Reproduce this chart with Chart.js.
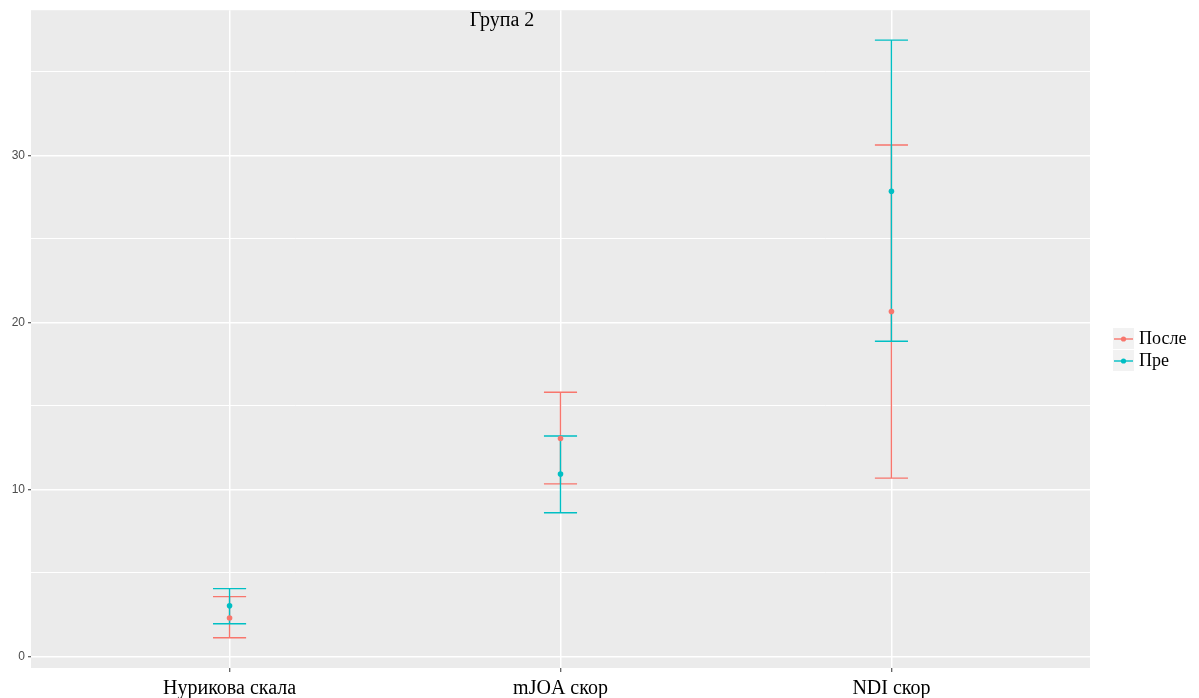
<!DOCTYPE html>
<html>
<head>
<meta charset="utf-8">
<script src="https://cdn.jsdelivr.net/npm/chart.js@4"></script>
<style>
  html, body { margin: 0; padding: 0; background: #fff; }
  #wrap { width: 1199px; height: 698px; }
</style>
</head>
<body>
<div id="wrap"><canvas id="chart" width="1199" height="698"></canvas></div>
<script>
// categories and values
const categories = ['Нурикова скала', 'mJOA скор', 'NDI скор'];
const seriesNames = ['После', 'Пре'];
const posleMean = [2.3, 13.05, 20.65];
const posleLow = [1.12, 10.33, 10.68];
const posleHigh = [3.58, 15.82, 30.62];
const preMean = [3.04, 10.92, 27.85];
const preLow = [1.96, 8.6, 18.87];
const preHigh = [4.06, 13.2, 36.9];
const yTicks = [0, 10, 20, 30];

const colors = ['#F8766D', '#00BFC4'];
const serif = '"Liberation Serif", "Times New Roman", serif';
const sans = '"Liberation Sans", Arial, sans-serif';

const toPoints = arr => arr.map((v, i) => ({ x: i + 1, y: v }));

const panelBg = {
    id: 'panelBg',
    beforeDraw(chart) {
        const { ctx, chartArea: a } = chart;
        ctx.save();
        ctx.fillStyle = '#EBEBEB';
        ctx.fillRect(a.left, a.top, a.right - a.left, a.bottom - a.top);
        ctx.restore();
    }
};

const errorBars = {
    id: 'errorBars',
    beforeDatasetsDraw(chart) {
        const { ctx, scales: { x, y } } = chart;
        const sets = [[posleLow, posleHigh], [preLow, preHigh]];
        ctx.save();
        ctx.lineWidth = 1.4;
        sets.forEach(([lo, hi], s) => {
            ctx.strokeStyle = colors[s];
            lo.forEach((v, i) => {
                const px = x.getPixelForValue(i + 1);
                const half = (x.getPixelForValue(1.1) - x.getPixelForValue(1)) * 0.5;
                const y1 = y.getPixelForValue(v);
                const y2 = y.getPixelForValue(hi[i]);
                ctx.beginPath();
                ctx.moveTo(px, y1); ctx.lineTo(px, y2);
                ctx.moveTo(px - half, y1); ctx.lineTo(px + half, y1);
                ctx.moveTo(px - half, y2); ctx.lineTo(px + half, y2);
                ctx.stroke();
            });
        });
        ctx.restore();
    }
};

const titleAndLegend = {
    id: 'titleAndLegend',
    afterDraw(chart) {
        const { ctx } = chart;
        ctx.save();
        ctx.fillStyle = '#000';
        ctx.font = '20px ' + serif;
        ctx.textAlign = 'center';
        ctx.textBaseline = 'middle';
        ctx.fillText('Група 2', 502, 21);

        // legend keys
        seriesNames.forEach((name, i) => {
            const top = 328 + i * 22;
            const cy = top + 11;
            ctx.fillStyle = '#F2F2F2';
            ctx.fillRect(1113, top, 21, 21);
            ctx.strokeStyle = colors[i];
            ctx.lineWidth = 1.4;
            ctx.beginPath();
            ctx.moveTo(1114, cy); ctx.lineTo(1133, cy);
            ctx.stroke();
            ctx.fillStyle = colors[i];
            ctx.beginPath();
            ctx.arc(1123.5, cy, 2.6, 0, Math.PI * 2);
            ctx.fill();
            ctx.fillStyle = '#000';
            ctx.font = '18px ' + serif;
            ctx.textAlign = 'left';
            ctx.fillText(name, 1139, cy);
        });
        ctx.restore();
    }
};

new Chart(document.getElementById('chart'), {
    type: 'line',
    data: {
        datasets: [
            {
                label: seriesNames[0],
                data: toPoints(posleMean),
                showLine: false,
                pointRadius: 2.8,
                pointBackgroundColor: colors[0],
                pointBorderWidth: 0
            },
            {
                label: seriesNames[1],
                data: toPoints(preMean),
                showLine: false,
                pointRadius: 2.8,
                pointBackgroundColor: colors[1],
                pointBorderWidth: 0
            }
        ]
    },
    options: {
        responsive: false,
        animation: false,
        layout: { padding: { top: 10, right: 109, left: 0, bottom: 0 } },
        plugins: {
            legend: { display: false },
            title: { display: false },
            tooltip: { enabled: false }
        },
        scales: {
            x: {
                type: 'linear',
                min: 0.4,
                max: 3.6,
                afterBuildTicks: scale => { scale.ticks = categories.map((c, i) => ({ value: i + 1 })); },
                afterFit: scale => { scale.height = 30; },
                border: { display: false },
                grid: {
                    color: '#FFFFFF',
                    lineWidth: 1.5,
                    tickLength: 4,
                    tickColor: '#333333',
                    tickWidth: 1
                },
                ticks: {
                    autoSkip: false,
                    maxRotation: 0,
                    padding: 5,
                    color: '#000',
                    font: { family: serif, size: 20 },
                    callback: v => categories[v - 1] || ''
                }
            },
            y: {
                min: -0.69,
                max: 38.69,
                afterBuildTicks: scale => {
                    const t = [];
                    for (let v = 0; v <= 35; v += 5) t.push({ value: v });
                    scale.ticks = t;
                },
                afterFit: scale => { scale.width = 31; },
                border: { display: false },
                grid: {
                    color: '#FFFFFF',
                    lineWidth: ctx => (ctx.tick && yTicks.includes(ctx.tick.value)) ? 1.5 : 1,
                    tickLength: 3,
                    tickColor: ctx => (ctx.tick && yTicks.includes(ctx.tick.value)) ? '#333333' : 'rgba(0,0,0,0)',
                    tickWidth: 1
                },
                ticks: {
                    padding: 3,
                    color: '#4D4D4D',
                    font: { family: sans, size: 12 },
                    callback: v => yTicks.includes(v) ? String(v) : ''
                }
            }
        }
    },
    plugins: [panelBg, errorBars, titleAndLegend]
});
</script>
</body>
</html>
